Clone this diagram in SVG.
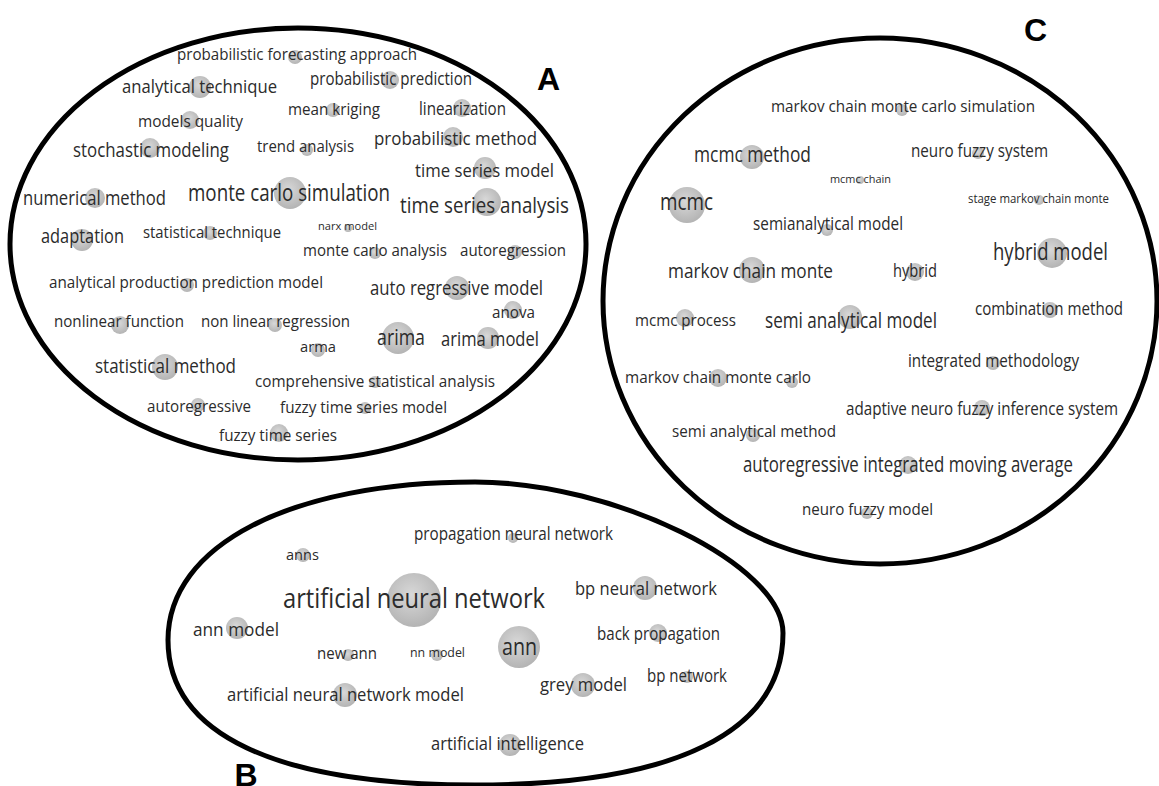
<svg xmlns="http://www.w3.org/2000/svg" width="1159" height="786" viewBox="0 0 1159 786">
<defs>
<radialGradient id="bg" cx="45%" cy="40%" r="60%">
<stop offset="0" stop-color="#d8d8d8"/>
<stop offset="1" stop-color="#b4b4b4"/>
</radialGradient>
<style>
.b{fill:url(#bg)}
.t{font-family:"Open Sans","Noto Sans","DejaVu Sans",sans-serif;fill:#2b2b2b;text-anchor:middle}
.cl{fill:none;stroke:#000;stroke-width:5}
.lb{font-family:"Liberation Sans",Arial,sans-serif;font-weight:bold;font-size:32px;fill:#000;text-anchor:middle}
</style>
</defs>
<rect width="1159" height="786" fill="#fff"/>
<g id="clusters">
<ellipse id="cluster-A" class="cl" cx="298" cy="244" rx="288" ry="216"/>
<ellipse id="cluster-C" class="cl" cx="880" cy="301" rx="277" ry="263"/>
<path id="cluster-B" class="cl" d="M475,482 C614,482 783,565 783,633 C783,732 675,785 475,785 C275,785 168,734 168,640 C168,545 291,482 475,482 Z"/>
</g>
<g id="connectors"/>
<g id="labels">
<text class="lb" x="548.5" y="90">A</text>
<text class="lb" x="1035.5" y="41">C</text>
<text class="lb" x="246" y="786">B</text>
</g>
<g id="cluster-A-nodes">
<g id="n1"><circle class="b" cx="295" cy="57" r="7"/><text class="t" x="297" y="60" font-size="17" textLength="240" lengthAdjust="spacingAndGlyphs">probabilistic forecasting approach</text></g>
<g id="n2"><circle class="b" cx="200" cy="87" r="11"/><text class="t" x="199.5" y="93" font-size="18" textLength="155" lengthAdjust="spacingAndGlyphs">analytical technique</text></g>
<g id="n3"><circle class="b" cx="390" cy="80" r="9"/><text class="t" x="391" y="85" font-size="18" textLength="162" lengthAdjust="spacingAndGlyphs">probabilistic prediction</text></g>
<g id="n4"><circle class="b" cx="333" cy="110" r="7"/><text class="t" x="334" y="115" font-size="17" textLength="92" lengthAdjust="spacingAndGlyphs">mean kriging</text></g>
<g id="n5"><circle class="b" cx="462" cy="108" r="9"/><text class="t" x="462.5" y="115" font-size="18" textLength="87" lengthAdjust="spacingAndGlyphs">linearization</text></g>
<g id="n6"><circle class="b" cx="190" cy="120" r="9"/><text class="t" x="190.5" y="127" font-size="17" textLength="105" lengthAdjust="spacingAndGlyphs">models quality</text></g>
<g id="n7"><circle class="b" cx="453" cy="137" r="10"/><text class="t" x="455.5" y="145" font-size="19" textLength="163" lengthAdjust="spacingAndGlyphs">probabilistic method</text></g>
<g id="n8"><circle class="b" cx="150" cy="148" r="10"/><text class="t" x="151" y="157" font-size="20" textLength="156" lengthAdjust="spacingAndGlyphs">stochastic modeling</text></g>
<g id="n9"><circle class="b" cx="307" cy="150" r="6"/><text class="t" x="305.5" y="152" font-size="17" textLength="97" lengthAdjust="spacingAndGlyphs">trend analysis</text></g>
<g id="n10"><circle class="b" cx="485" cy="168" r="11"/><text class="t" x="484.5" y="177" font-size="19" textLength="139" lengthAdjust="spacingAndGlyphs">time series model</text></g>
<g id="n11"><circle class="b" cx="95" cy="198" r="10"/><text class="t" x="94.5" y="205" font-size="20" textLength="143" lengthAdjust="spacingAndGlyphs">numerical method</text></g>
<g id="n12"><circle class="b" cx="290" cy="193" r="16"/><text class="t" x="289" y="201" font-size="24" textLength="202" lengthAdjust="spacingAndGlyphs">monte carlo simulation</text></g>
<g id="n13"><circle class="b" cx="487" cy="202" r="14"/><text class="t" x="484.5" y="213" font-size="22" textLength="169" lengthAdjust="spacingAndGlyphs">time series analysis</text></g>
<g id="n14"><circle class="b" cx="348" cy="228" r="4"/><text class="t" x="347.5" y="230" font-size="11" textLength="59" lengthAdjust="spacingAndGlyphs">narx model</text></g>
<g id="n15"><circle class="b" cx="82" cy="240" r="11"/><text class="t" x="82.5" y="243" font-size="20" textLength="83" lengthAdjust="spacingAndGlyphs">adaptation</text></g>
<g id="n16"><circle class="b" cx="210" cy="233" r="7"/><text class="t" x="212" y="238" font-size="17" textLength="138" lengthAdjust="spacingAndGlyphs">statistical technique</text></g>
<g id="n17"><circle class="b" cx="375" cy="253" r="6"/><text class="t" x="375" y="256" font-size="17" textLength="144" lengthAdjust="spacingAndGlyphs">monte carlo analysis</text></g>
<g id="n18"><circle class="b" cx="515" cy="252" r="7"/><text class="t" x="513" y="256" font-size="17" textLength="106" lengthAdjust="spacingAndGlyphs">autoregression</text></g>
<g id="n19"><circle class="b" cx="187" cy="285" r="7"/><text class="t" x="186" y="288" font-size="17" textLength="274" lengthAdjust="spacingAndGlyphs">analytical production prediction model</text></g>
<g id="n20"><circle class="b" cx="457" cy="288" r="12"/><text class="t" x="456.5" y="295" font-size="20" textLength="173" lengthAdjust="spacingAndGlyphs">auto regressive model</text></g>
<g id="n21"><circle class="b" cx="513" cy="310" r="9"/><text class="t" x="513.5" y="318" font-size="17" textLength="43" lengthAdjust="spacingAndGlyphs">anova</text></g>
<g id="n22"><circle class="b" cx="120" cy="325" r="9"/><text class="t" x="119" y="327" font-size="17" textLength="130" lengthAdjust="spacingAndGlyphs">nonlinear function</text></g>
<g id="n23"><circle class="b" cx="275" cy="325" r="7"/><text class="t" x="275.5" y="327" font-size="17" textLength="149" lengthAdjust="spacingAndGlyphs">non linear regression</text></g>
<g id="n24"><circle class="b" cx="398" cy="338" r="16"/><text class="t" x="401" y="345" font-size="21" textLength="48" lengthAdjust="spacingAndGlyphs">arima</text></g>
<g id="n25"><circle class="b" cx="488" cy="338" r="11"/><text class="t" x="490" y="346" font-size="20" textLength="98" lengthAdjust="spacingAndGlyphs">arima model</text></g>
<g id="n26"><circle class="b" cx="318" cy="350" r="7"/><text class="t" x="318" y="352" font-size="15" textLength="36" lengthAdjust="spacingAndGlyphs">arma</text></g>
<g id="n27"><circle class="b" cx="165" cy="367" r="13"/><text class="t" x="165.5" y="373" font-size="20" textLength="141" lengthAdjust="spacingAndGlyphs">statistical method</text></g>
<g id="n28"><circle class="b" cx="375" cy="382" r="6"/><text class="t" x="375" y="387" font-size="17" textLength="240" lengthAdjust="spacingAndGlyphs">comprehensive statistical analysis</text></g>
<g id="n29"><circle class="b" cx="198" cy="405" r="7"/><text class="t" x="199" y="412" font-size="17" textLength="104" lengthAdjust="spacingAndGlyphs">autoregressive</text></g>
<g id="n30"><circle class="b" cx="365" cy="408" r="6"/><text class="t" x="363.5" y="413" font-size="17" textLength="167" lengthAdjust="spacingAndGlyphs">fuzzy time series model</text></g>
<g id="n31"><circle class="b" cx="279" cy="433" r="9"/><text class="t" x="278" y="441" font-size="17" textLength="118" lengthAdjust="spacingAndGlyphs">fuzzy time series</text></g>
</g>
<g id="cluster-C-nodes">
<g id="n32"><circle class="b" cx="902" cy="110" r="6"/><text class="t" x="903" y="112" font-size="17" textLength="264" lengthAdjust="spacingAndGlyphs">markov chain monte carlo simulation</text></g>
<g id="n33"><circle class="b" cx="752" cy="157" r="12"/><text class="t" x="752.5" y="162" font-size="21" textLength="117" lengthAdjust="spacingAndGlyphs">mcmc method</text></g>
<g id="n34"><circle class="b" cx="978" cy="153" r="6"/><text class="t" x="979.5" y="157" font-size="18" textLength="137" lengthAdjust="spacingAndGlyphs">neuro fuzzy system</text></g>
<g id="n35"><circle class="b" cx="860" cy="180" r="4"/><text class="t" x="860.5" y="183" font-size="11" textLength="61" lengthAdjust="spacingAndGlyphs">mcmc chain</text></g>
<g id="n36"><circle class="b" cx="1039" cy="200" r="5"/><text class="t" x="1038.5" y="203" font-size="12" textLength="141" lengthAdjust="spacingAndGlyphs">stage markov chain monte</text></g>
<g id="n37"><circle class="b" cx="687" cy="205" r="18"/><text class="t" x="686.5" y="210" font-size="24" textLength="53" lengthAdjust="spacingAndGlyphs">mcmc</text></g>
<g id="n38"><circle class="b" cx="827" cy="230" r="6"/><text class="t" x="828" y="230" font-size="18" textLength="150" lengthAdjust="spacingAndGlyphs">semianalytical model</text></g>
<g id="n39"><circle class="b" cx="1052" cy="253" r="15"/><text class="t" x="1050.5" y="260" font-size="23" textLength="115" lengthAdjust="spacingAndGlyphs">hybrid model</text></g>
<g id="n40"><circle class="b" cx="752" cy="270" r="13"/><text class="t" x="750.5" y="278" font-size="20" textLength="165" lengthAdjust="spacingAndGlyphs">markov chain monte</text></g>
<g id="n41"><circle class="b" cx="915" cy="272" r="9"/><text class="t" x="915" y="277" font-size="18" textLength="44" lengthAdjust="spacingAndGlyphs">hybrid</text></g>
<g id="n42"><circle class="b" cx="1050" cy="310" r="8"/><text class="t" x="1049" y="315" font-size="18" textLength="148" lengthAdjust="spacingAndGlyphs">combination method</text></g>
<g id="n43"><circle class="b" cx="685" cy="318" r="9"/><text class="t" x="685.5" y="326" font-size="17" textLength="101" lengthAdjust="spacingAndGlyphs">mcmc process</text></g>
<g id="n44"><circle class="b" cx="850" cy="317" r="12"/><text class="t" x="851" y="328" font-size="21" textLength="172" lengthAdjust="spacingAndGlyphs">semi analytical model</text></g>
<g id="n45"><circle class="b" cx="993" cy="363" r="7"/><text class="t" x="993.5" y="367" font-size="18" textLength="171" lengthAdjust="spacingAndGlyphs">integrated methodology</text></g>
<g id="n46"><circle class="b" cx="718" cy="378" r="9"/><circle class="b" cx="792" cy="382" r="6"/><text class="t" x="718" y="383" font-size="17" textLength="186" lengthAdjust="spacingAndGlyphs">markov chain monte carlo</text></g>
<g id="n47"><circle class="b" cx="982" cy="408" r="8"/><text class="t" x="982" y="415" font-size="18" textLength="272" lengthAdjust="spacingAndGlyphs">adaptive neuro fuzzy inference system</text></g>
<g id="n48"><circle class="b" cx="753" cy="435" r="7"/><text class="t" x="754" y="437" font-size="17" textLength="164" lengthAdjust="spacingAndGlyphs">semi analytical method</text></g>
<g id="n49"><circle class="b" cx="908" cy="465" r="9"/><text class="t" x="908" y="472" font-size="21" textLength="330" lengthAdjust="spacingAndGlyphs">autoregressive integrated moving average</text></g>
<g id="n50"><circle class="b" cx="867" cy="513" r="6"/><text class="t" x="867.5" y="515" font-size="17" textLength="131" lengthAdjust="spacingAndGlyphs">neuro fuzzy model</text></g>
</g>
<g id="cluster-B-nodes">
<g id="n51"><circle class="b" cx="513" cy="538" r="5"/><text class="t" x="513.5" y="540" font-size="18" textLength="199" lengthAdjust="spacingAndGlyphs">propagation neural network</text></g>
<g id="n52"><circle class="b" cx="303" cy="555" r="7"/><text class="t" x="302.5" y="560" font-size="15" textLength="33" lengthAdjust="spacingAndGlyphs">anns</text></g>
<g id="n53"><circle class="b" cx="414" cy="600" r="27"/><text class="t" x="414" y="608" font-size="28" textLength="262" lengthAdjust="spacingAndGlyphs">artificial neural network</text></g>
<g id="n54"><circle class="b" cx="645" cy="588" r="12"/><text class="t" x="646" y="595" font-size="19" textLength="142" lengthAdjust="spacingAndGlyphs">bp neural network</text></g>
<g id="n55"><circle class="b" cx="237" cy="628" r="11"/><text class="t" x="236" y="636" font-size="19" textLength="86" lengthAdjust="spacingAndGlyphs">ann model</text></g>
<g id="n56"><circle class="b" cx="658" cy="633" r="9"/><text class="t" x="658.5" y="640" font-size="18" textLength="123" lengthAdjust="spacingAndGlyphs">back propagation</text></g>
<g id="n57"><circle class="b" cx="348" cy="655" r="6"/><text class="t" x="347" y="659" font-size="17" textLength="60" lengthAdjust="spacingAndGlyphs">new ann</text></g>
<g id="n58"><circle class="b" cx="437" cy="655" r="6"/><text class="t" x="437.5" y="657" font-size="12" textLength="55" lengthAdjust="spacingAndGlyphs">nn model</text></g>
<g id="n59"><circle class="b" cx="519" cy="647" r="21"/><text class="t" x="519.5" y="655" font-size="24" textLength="35" lengthAdjust="spacingAndGlyphs">ann</text></g>
<g id="n60"><circle class="b" cx="583" cy="685" r="12"/><text class="t" x="583.5" y="691" font-size="19" textLength="87" lengthAdjust="spacingAndGlyphs">grey model</text></g>
<g id="n61"><circle class="b" cx="687" cy="677" r="6"/><text class="t" x="687" y="682" font-size="18" textLength="80" lengthAdjust="spacingAndGlyphs">bp network</text></g>
<g id="n62"><circle class="b" cx="345" cy="695" r="12"/><text class="t" x="345.5" y="701" font-size="19" textLength="237" lengthAdjust="spacingAndGlyphs">artificial neural network model</text></g>
<g id="n63"><circle class="b" cx="510" cy="745" r="11"/><text class="t" x="507.5" y="750" font-size="18" textLength="153" lengthAdjust="spacingAndGlyphs">artificial intelligence</text></g>
</g>
</svg>
